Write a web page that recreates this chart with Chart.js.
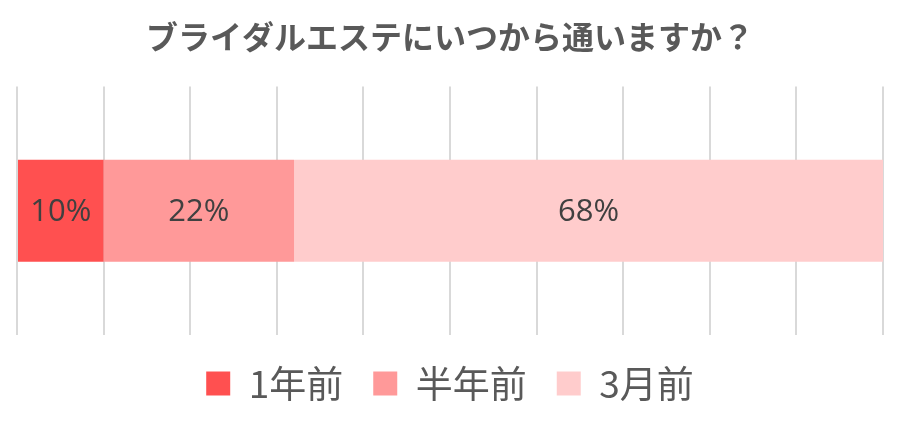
<!DOCTYPE html>
<html>
<head>
<meta charset="utf-8">
<script src="https://cdn.jsdelivr.net/npm/chart.js@4/dist/chart.umd.min.js"></script>
<style>
  body { margin: 0; background: #fff; }
  #wrap { width: 901px; height: 425px; }
</style>
</head>
<body>
<div id="wrap"><canvas id="myChart"></canvas></div>
<script>
var categories = ["ブライダルエステ"];
var seriesNames = ["1年前", "半年前", "3月前"];
var seriesValues = [[10], [22], [68]];
var barColors = ["#FF5050", "#FF9999", "#FFCCCC"];
var xTicks = [0, 10, 20, 30, 40, 50, 60, 70, 80, 90, 100];

var datasets = seriesNames.map(function (name, i) {
    return {
        label: name,
        data: seriesValues[i],
        backgroundColor: barColors[i],
        borderWidth: 0,
        barPercentage: 1,
        categoryPercentage: 0.41
    };
});

// draw the percent labels in the middle of each segment
var segmentLabels = {
    id: "segmentLabels",
    afterDatasetsDraw: function (chart) {
        var ctx = chart.ctx;
        ctx.save();
        ctx.font = "31px 'Open Sans', 'Liberation Sans', sans-serif";
        ctx.fillStyle = "#404040";
        ctx.textAlign = "center";
        ctx.textBaseline = "middle";
        chart.data.datasets.forEach(function (ds, i) {
            chart.getDatasetMeta(i).data.forEach(function (bar, j) {
                var cx = (bar.x + bar.base) / 2;
                ctx.fillText(ds.data[j] + "%", cx, bar.y + 1);
            });
        });
        ctx.restore();
    }
};

new Chart("myChart", {
    type: "bar",
    data: {
        labels: categories,
        datasets: datasets
    },
    options: {
        indexAxis: "y",
        responsive: true,
        maintainAspectRatio: false,
        animation: false,
        layout: {
            padding: { left: 17, right: 18, top: 2, bottom: 13 }
        },
        scales: {
            x: {
                stacked: true,
                min: 0,
                max: 100,
                afterBuildTicks: function (axis) {
                    axis.ticks = xTicks.map(function (v) { return { value: v }; });
                },
                ticks: { display: false },
                grid: { color: "#D9D9D9", lineWidth: 2, drawTicks: false },
                border: { display: false }
            },
            y: {
                stacked: true,
                display: false
            }
        },
        plugins: {
            title: {
                display: true,
                text: "ブライダルエステにいつから通いますか？",
                color: "#595959",
                font: { size: 32, weight: "bold", family: "'Noto Sans CJK JP', sans-serif" },
                padding: { top: 16, bottom: 30 }
            },
            legend: {
                position: "bottom",
                labels: {
                    boxWidth: 24,
                    boxHeight: 24,
                    padding: 30,
                    color: "#595959",
                    font: { size: 37, family: "'Noto Sans CJK JP', sans-serif" }
                }
            },
            tooltip: { enabled: false }
        }
    },
    plugins: [segmentLabels]
});
</script>
</body>
</html>
